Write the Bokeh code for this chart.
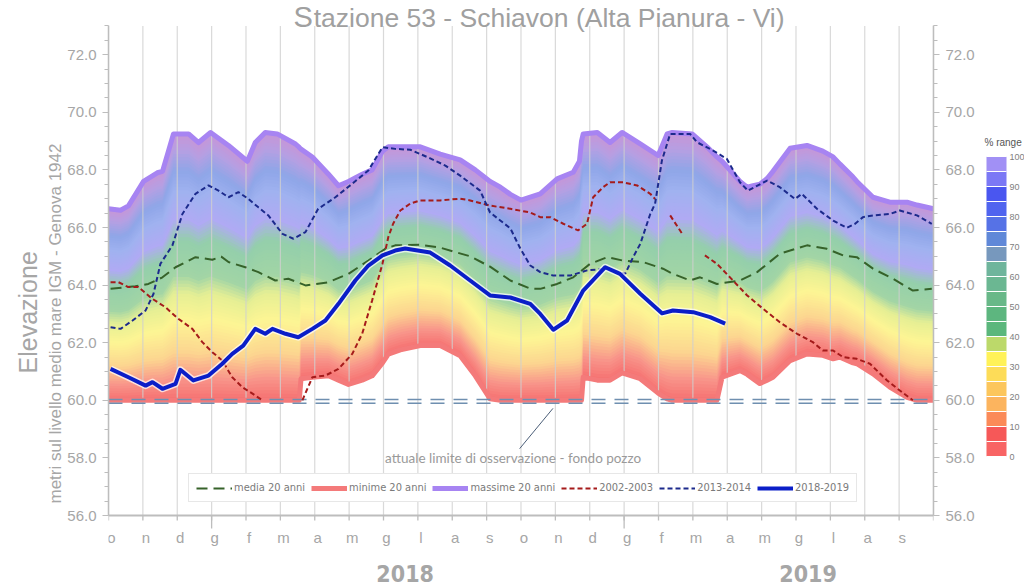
import numpy as np
from bokeh.plotting import figure
from bokeh.models import (LinearAxis, FixedTicker, Range1d, Label, Legend, LegendItem,
                          ColorBar, LinearColorMapper, PrintfTickFormatter, Title)
from bokeh.core.properties import value
from bokeh.embed import file_html
from bokeh.resources import INLINE

FONT = "Liberation Sans"
NARROW = "'Liberation Sans Narrow', 'DejaVu Sans Condensed', sans-serif"
GRAY = "#a6a6a6"
AX = "#bdbdbd"
PX = 1 / 28.8  # one pixel in metres (vertical scale)

# ---------------- data ----------------
month_labels = ["o", "n", "d", "g", "f", "m", "a", "m", "g", "l", "a", "s",
                "o", "n", "d", "g", "f", "m", "a", "m", "g", "l", "a", "s"]
month_ticks = list(range(25))
jan_ticks = [3, 15]
year_labels = ["2018", "2019"]
year_x = [8.63, 20.35]
y_ticks = [56, 58, 60, 62, 64, 66, 68, 70, 72]
y_minor = [56 + 0.5 * i for i in range(35)]
pct_ticks = [0, 10, 20, 30, 40, 50, 60, 70, 80, 90, 100]
pct_minor = [5 * i for i in range(21)]

band_x = [0.00, 0.35, 0.58, 1.02, 1.42, 1.57, 1.72, 1.89, 2.33, 2.62, 2.97, 3.49, 4.04, 4.27,
          4.56, 4.91, 5.44, 5.55, 5.60, 5.93, 6.40, 6.69, 6.98, 7.38, 7.67, 7.97, 8.14, 8.49,
          9.07, 9.65, 10.23, 10.67, 11.10, 11.40, 11.69, 12.00, 12.56, 13.05, 13.52, 13.70,
          13.76, 13.81, 14.22, 14.59, 14.94, 15.47, 15.99, 16.25, 16.40, 16.98, 17.41, 17.70,
          17.85, 18.37, 18.58, 18.75, 18.95, 19.16, 19.33, 19.83, 20.32, 20.78, 21.08, 21.28,
          21.66, 21.77, 22.24, 22.73, 23.23, 23.52, 24.00]
band_max = [66.65, 66.60, 66.75, 67.60, 67.90, 67.95, 68.55, 69.25, 69.25, 68.95, 69.30, 68.85,
            68.30, 68.95, 69.30, 69.25, 68.90, 68.78, 68.72, 68.45, 67.85, 67.45, 67.60, 67.85,
            68.00, 68.65, 68.80, 68.80, 68.80, 68.55, 68.35, 68.00, 67.60, 67.40, 67.15, 66.95,
            67.17, 67.69, 67.92, 68.30, 69.00, 69.25, 69.30, 68.95, 69.30, 68.90, 68.50, 69.25,
            69.30, 69.25, 68.80, 68.45, 68.30, 67.60, 67.40, 67.45, 67.50, 67.70, 67.95, 68.75,
            68.85, 68.65, 68.45, 68.20, 67.75, 67.60, 67.05, 66.88, 66.88, 66.78, 66.65]
band_min = [60.00, 60.00, 60.00, 60.00, 60.00, 60.00, 60.00, 60.00, 60.00, 60.00, 60.00, 60.00,
            60.00, 60.00, 60.00, 60.00, 60.00, 60.00, 60.75, 60.80, 60.85, 60.70, 60.55, 60.70,
            60.85, 61.30, 61.60, 61.75, 61.90, 61.90, 61.55, 60.85, 60.05, 60.00, 60.00, 60.00,
            60.00, 60.00, 60.00, 60.00, 60.00, 60.80, 60.70, 60.70, 60.95, 60.75, 60.25, 60.05,
            60.00, 60.00, 60.00, 60.00, 60.80, 61.03, 60.90, 60.75, 60.58, 60.70, 60.80, 61.38,
            61.61, 61.56, 61.44, 61.50, 61.30, 61.27, 60.92, 60.46, 60.10, 60.00, 60.00]

mean_x = [0.06, 0.78, 1.16, 1.57, 1.95, 2.53, 3.02, 3.28, 3.49, 3.98, 4.36, 4.85, 5.23, 5.73,
          6.40, 6.98, 7.56, 8.05, 8.34, 9.07, 9.65, 10.52, 11.10, 11.69, 12.27, 12.56, 13.05,
          13.52, 14.01, 14.51, 14.97, 15.55, 16.13, 16.42, 16.92, 17.21, 17.70, 18.37, 18.87,
          19.53, 20.32, 20.90, 21.37, 21.77, 22.24, 22.82, 23.40, 23.95]
mean_y = [63.87, 63.96, 64.04, 64.27, 64.62, 64.97, 64.88, 64.99, 64.80, 64.62, 64.45, 64.16,
          64.22, 63.99, 64.10, 64.39, 64.85, 65.26, 65.38, 65.40, 65.30, 65.00, 64.64, 64.16,
          63.88, 63.87, 64.04, 64.27, 64.74, 64.97, 64.85, 64.80, 64.57, 64.39, 64.16, 64.27,
          64.04, 64.16, 64.45, 65.09, 65.38, 65.26, 65.03, 64.97, 64.57, 64.22, 63.81, 63.87]

y1819_x = [0.06, 0.58, 1.08, 1.28, 1.57, 1.95, 2.09, 2.47, 2.91, 3.31, 3.60, 3.92, 4.27, 4.56,
           4.77, 5.15, 5.52, 5.93, 6.31, 6.69, 7.18, 7.56, 7.97, 8.34, 8.63, 9.36, 9.94, 10.52,
           11.10, 11.69, 12.27, 12.56, 12.94, 13.34, 13.81, 14.45, 14.88, 15.47, 16.10, 16.42,
           17.01, 17.50, 17.94]
y1819_y = [61.09, 60.80, 60.51, 60.63, 60.40, 60.57, 61.06, 60.69, 60.86, 61.27, 61.61, 61.90,
           62.48, 62.31, 62.48, 62.31, 62.19, 62.48, 62.77, 63.35, 64.16, 64.68, 65.03, 65.20,
           65.27, 65.13, 64.68, 64.16, 63.64, 63.57, 63.35, 63.00, 62.45, 62.77, 63.81, 64.62,
           64.39, 63.70, 63.02, 63.12, 63.06, 62.89, 62.66]

y1314_x = [0.06, 0.35, 0.70, 1.08, 1.31, 1.51, 1.86, 2.15, 2.53, 2.91, 3.20, 3.49, 3.78, 4.07,
           4.36, 4.65, 5.06, 5.38, 5.73, 6.10, 6.60, 7.09, 7.56, 7.97, 8.34, 8.78, 9.36, 9.80,
           10.23, 10.81, 11.10, 11.69, 11.98, 12.27, 12.56, 12.94, 13.43, 13.92, 14.51, 15.03,
           15.26, 15.47, 15.76, 15.90, 16.10, 16.34, 16.92, 17.12, 17.59, 17.99, 18.37, 18.60,
           19.16, 19.53, 19.97, 20.17, 20.61, 21.08, 21.48, 21.72, 21.95, 22.24, 22.73, 23.02,
           23.52, 23.95]
y1314_y = [62.54, 62.48, 62.77, 63.12, 63.70, 64.74, 65.38, 66.47, 67.17, 67.46, 67.28, 67.05,
           67.23, 66.99, 66.70, 66.42, 65.78, 65.61, 65.84, 66.65, 67.05, 67.52, 67.98, 68.79,
           68.73, 68.70, 68.40, 68.15, 67.80, 67.28, 66.52, 65.97, 65.27, 64.68, 64.45, 64.33,
           64.33, 64.51, 64.57, 64.39, 64.97, 65.43, 66.47, 66.82, 68.33, 69.25, 69.25, 68.96,
           68.67, 68.38, 67.57, 67.28, 67.63, 67.40, 66.99, 67.17, 66.65, 66.24, 65.99, 66.13,
           66.36, 66.42, 66.47, 66.59, 66.42, 66.13]

y0203_x = [0.06, 0.29, 0.58, 0.87, 1.28, 1.66, 2.03, 2.44, 2.73, 3.02, 3.31, 3.60, 3.90, 4.19,
           4.48, 5.00, 5.64, 5.93, 6.31, 6.69, 7.09, 7.38, 7.67, 7.97, 8.14, 8.28, 8.49, 8.78,
           9.07, 9.65, 10.23, 10.52, 11.10, 11.69, 12.27, 12.56, 12.85, 13.23, 13.66, 13.92,
           14.10, 14.39, 14.59, 14.97, 15.38, 15.76, 15.90, 16.15, 16.34, 16.69, 17.00, 17.35,
           17.70, 18.08, 18.58, 19.04, 19.53, 20.03, 20.49, 20.78, 21.08, 21.37, 21.77, 22.15,
           22.65, 23.02, 23.40]
y0203_y = [64.10, 64.10, 63.93, 63.93, 63.52, 63.23, 62.83, 62.48, 62.02, 61.67, 61.38, 60.80,
           60.45, 60.23, 60.00, np.nan, 60.00, 60.80, 60.86, 61.09, 61.61, 62.31, 63.47, 64.74,
           65.67, 66.13, 66.59, 66.83, 66.94, 66.94, 67.00, 66.94, 66.76, 66.65, 66.52, 66.36,
           66.36, 66.13, 65.90, 66.13, 67.05, 67.40, 67.57, 67.57, 67.46, 67.17, 66.99, np.nan,
           66.42, 65.78, np.nan, 65.03, 64.74, 64.27, 63.64, 63.18, 62.71, 62.31, 62.02, 61.73,
           61.73, 61.50, 61.44, 61.27, 60.69, 60.34, 60.00]

limit_level = [60.03, 59.90]
# colour bar palette (0 -> 100 %)
band_palette = ["#f86464", "#f65858", "#fb8a58", "#fcb45e", "#fcc65c", "#fddc58", "#fff258",
                "#bcd96a", "#5bb77c", "#5db67f", "#68b888", "#6bb792", "#6fb59c", "#7798bd",
                "#6088d8", "#5672e6", "#5064ef", "#4a56f0", "#7b78f5", "#a190f5"]
# pastel ramp used to shade the band (fraction of range -> colour)
ramp_stops = [0.0, 0.08, 0.18, 0.30, 0.40, 0.47, 0.60, 0.68, 0.78, 0.86, 0.94, 1.0]
ramp_colors = ["#f67070", "#f8948a", "#fcd590", "#fdf594", "#e6ef94", "#a2d5a5", "#94cfab",
               "#b0aaf4", "#a0b2f0", "#8fa6e8", "#b79fe2", "#c795d6"]

# ---------------- figure ----------------
p = figure(frame_width=825, frame_height=587, x_range=Range1d(0, 24),
           y_range=Range1d(53.5, 53.5 + 587 * PX),
           x_axis_location=None, y_axis_location=None, output_backend="svg",
           toolbar_location=None, min_border_left=108, min_border_right=91,
           min_border_top=0, min_border_bottom=0, outline_line_color=None,
           background_fill_color="white", border_fill_color="white")
p.grid.visible = False

# band of percentiles (min -> max), smooth colour ramp
bx = np.array(band_x)
bmin = np.array(band_min)
bmax = np.array(band_max)
ramp_rgb = np.array([[int(c[i:i + 2], 16) for i in (1, 3, 5)] for c in ramp_colors], float)
L = 80
for k in range(L):
    f = (k + 0.5) / L
    rgb = [np.interp(f, ramp_stops, ramp_rgb[:, j]) for j in range(3)]
    col = "#%02x%02x%02x" % tuple(int(round(v)) for v in rgb)
    lo = bmin + (bmax - bmin) * k / L
    p.varea(x=bx, y1=lo, y2=bmax, fill_color=col, fill_alpha=1.0)

# vertical month grid lines
p.segment(x0=month_ticks, y0=[56] * 25, x1=month_ticks, y1=[73] * 25,
          line_color="#d0d0d0", line_width=1.2, line_alpha=0.8)

r_max = p.line(band_x, band_max, line_color="#a784f2", line_width=5, line_join="round")
r_min = p.line(band_x, band_min, line_color="#f47a7a", line_width=5, line_join="round")

for lv in limit_level:
    p.line([0, 24], [lv, lv], line_color="#6f8fb0", line_width=1.6, line_dash="14 9")

r_mean = p.line(mean_x, mean_y, line_color="#36622a", line_width=2, line_dash="11 6")
r_0203 = p.line(y0203_x, y0203_y, line_color="#a51b1b", line_width=2, line_dash="5 3")
r_1314 = p.line(y1314_x, y1314_y, line_color="#1c2a8c", line_width=2, line_dash="5 3")
p.line(y1819_x, y1819_y, line_color="white", line_width=7, line_alpha=0.7, line_join="round")
r_1819 = p.line(y1819_x, y1819_y, line_color="#0b1ec8", line_width=4, line_join="round")

# annotation for observation limit
p.segment(x0=[12.93], y0=[59.72], x1=[11.96], y1=[58.32], line_color="#4b5e78", line_width=1)
p.add_layout(Label(x=11.77, y=58.0, text="attuale limite di osservazione - fondo pozzo",
                   text_align="center", text_baseline="middle", text_font="Lato",
                   text_font_size="13.5px", text_color="#9a9a9a"))

# ---------------- x axis (months) ----------------
p.segment(x0=[0], y0=[56], x1=[24], y1=[56], line_color=AX, line_width=2)
p.segment(x0=month_ticks, y0=[56] * 25, x1=month_ticks, y1=[56 - 5 * PX] * 25,
          line_color=AX, line_width=1.3)
p.segment(x0=jan_ticks, y0=[56] * 2, x1=jan_ticks, y1=[56 - 13 * PX] * 2,
          line_color=AX, line_width=1.3)
p.text(x=month_ticks[:-1], y=[56 - 22 * PX] * 24, text=month_labels, x_offset=3,
       text_align="center", text_baseline="middle", text_font=value(FONT),
       text_font_size="15px", text_color=GRAY)
p.text(x=year_x, y=[56 - 58 * PX] * 2, text=year_labels, text_align="center",
       text_baseline="middle", text_font=value(NARROW), text_font_size="23px",
       text_font_style="bold", text_color="#a6a6a6")

# ---------------- y axes ----------------
for loc in ("left", "right"):
    ax = LinearAxis(ticker=FixedTicker(ticks=y_ticks, minor_ticks=y_minor), bounds=(56, 73),
                    formatter=PrintfTickFormatter(format="%.1f"),
                    axis_line_color=AX, axis_line_width=1.5, major_tick_line_color=AX,
                    minor_tick_line_color=AX, major_tick_out=6, major_tick_in=0,
                    minor_tick_out=4, minor_tick_in=0, major_label_text_font=FONT,
                    major_label_text_font_size="15px", major_label_text_color=GRAY,
                    major_label_standoff=6)
    p.add_layout(ax, loc)

p.add_layout(Title(text="metri  sul livello medio mare  IGM - Genova 1942", align="left",
                   offset=84, standoff=0, text_font=FONT, text_font_size="17px",
                   text_color=GRAY, text_font_style="normal"), "left")
p.add_layout(Title(text="Elevazione", align="left", offset=214, standoff=4, text_font=FONT,
                   text_font_size="25px", text_color=GRAY, text_font_style="normal"), "left")

# ---------------- title ----------------
p.add_layout(Label(x=5.38, y=53.5 + (587 - 16.5) * PX, text="S", text_align="left",
                   text_baseline="middle", text_font=FONT, text_font_size="29px",
                   text_color="#a0a0a0"))
p.add_layout(Label(x=5.97, y=53.5 + (587 - 17) * PX,
                   text="tazione 53 - Schiavon (Alta Pianura - Vi)",
                   text_align="left", text_baseline="middle", text_font=FONT,
                   text_font_size="26.5px", text_color="#a0a0a0"))

# ---------------- legend ----------------
legend = Legend(items=[LegendItem(label="media 20 anni", renderers=[r_mean]),
                       LegendItem(label="minime 20 anni", renderers=[r_min]),
                       LegendItem(label="massime 20 anni", renderers=[r_max]),
                       LegendItem(label="2002-2003", renderers=[r_0203]),
                       LegendItem(label="2013-2014", renderers=[r_1314]),
                       LegendItem(label="2018-2019", renderers=[r_1819])],
                orientation="horizontal", location=(80, 85), border_line_color="#cfcfcf",
                background_fill_color="white", background_fill_alpha=1.0,
                label_text_font=NARROW, label_text_font_size="11px",
                label_text_color="#7a7a7a", glyph_width=36, glyph_height=12,
                label_standoff=2, spacing=6, padding=7, margin=0)
p.add_layout(legend, "center")

# ---------------- colour bar ----------------
mapper = LinearColorMapper(palette=band_palette, low=0, high=100)
cb = ColorBar(color_mapper=mapper, ticker=FixedTicker(ticks=pct_ticks, minor_ticks=pct_minor),
              orientation="vertical", width=20, height=300, location=(878, 131),
              padding=0, margin=0,
              major_label_text_font=FONT, major_label_text_font_size="9px",
              major_label_text_color="#808080", label_standoff=3,
              major_tick_in=20, major_tick_out=0, major_tick_line_color="white",
              minor_tick_in=20, minor_tick_out=0, minor_tick_line_color="white",
              bar_line_color=None, border_line_color=None, background_fill_alpha=0)
p.add_layout(cb, "center")

# title of the colour bar (horizontal, above it)
cb_title = ColorBar(color_mapper=mapper, ticker=FixedTicker(ticks=[]), orientation="horizontal",
                    width=38, height=1, location=(876, 438), padding=0, margin=0,
                    scale_alpha=0, title="% range", title_text_font=FONT,
                    title_text_font_size="10px", title_text_font_style="normal",
                    title_text_color="#555555", title_standoff=2,
                    major_label_text_font_size="1px", major_tick_line_color=None,
                    minor_tick_line_color=None, bar_line_color=None,
                    border_line_color=None, background_fill_alpha=0)
p.add_layout(cb_title, "center")

open("out.html", "w").write(file_html(p, INLINE))
